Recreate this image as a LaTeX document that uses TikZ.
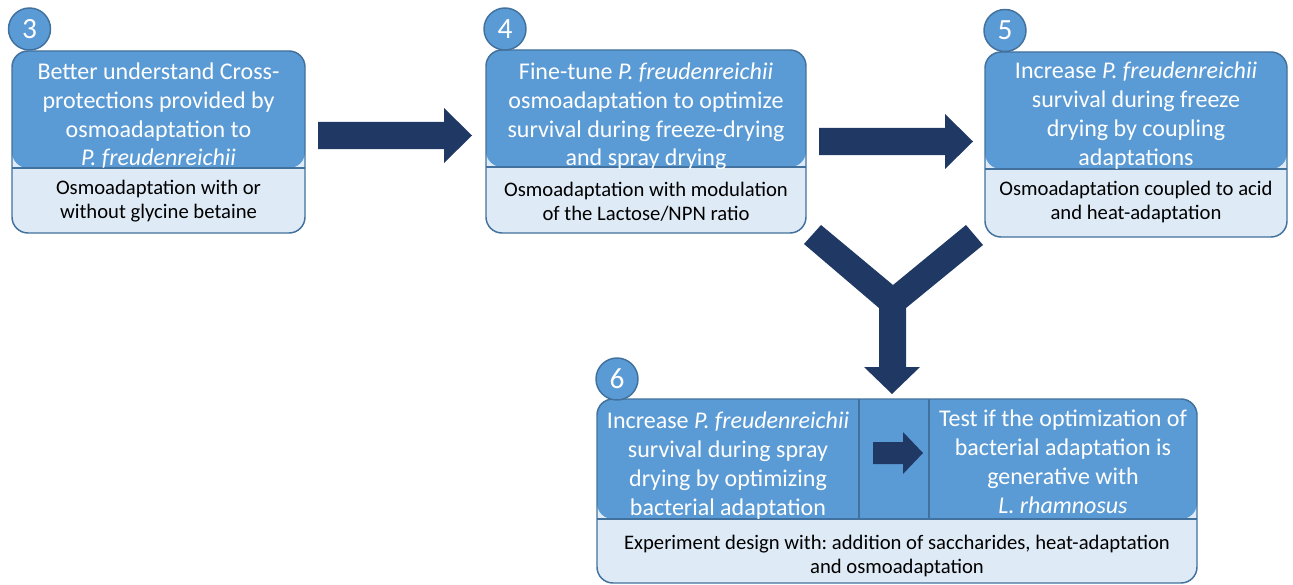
\documentclass[tikz,border=0pt]{standalone}
\usepackage{fontspec}
\setmainfont{Carlito}
\frenchspacing
\definecolor{topc}{HTML}{5B9BD5}
\definecolor{lightc}{HTML}{DEEBF7}
\definecolor{bordc}{HTML}{41719C}
\definecolor{arrowc}{HTML}{203864}
\newcommand{\tstr}{\rule{0pt}{14pt}}
\newcommand{\lstr}{\rule{0pt}{12pt}}
\begin{document}
\frenchspacing
\begin{tikzpicture}[x=0.75pt,y=-0.75pt,
  box/.style={draw=bordc,line width=1.1pt,fill=lightc,rounded corners=12pt,inner sep=0pt},
  topsplit/.style={path picture={
    \fill[topc] (path picture bounding box.north west) rectangle ([yshift=-#1]path picture bounding box.north east);
    \draw[bordc,line width=0.9pt] ([yshift=-#1]path picture bounding box.north west) -- ([yshift=-#1]path picture bounding box.north east);}},
  toptxt/.style={anchor=north,align=center,text=white,font=\fontsize{18}{21.6}\selectfont\frenchspacing,inner sep=0pt},
  lowtxt/.style={anchor=north,align=center,text=black,font=\fontsize{15.5}{18}\selectfont\frenchspacing,inner sep=0pt},
  numc/.style={circle,draw=bordc,line width=1.1pt,fill=topc,minimum size=31.5pt,inner sep=0pt,text=white,font=\fontsize{22}{22}\selectfont},
  blockarrow/.style={fill=arrowc,draw=none},
  inline/.style={draw=bordc,line width=0.9pt}]
\useasboundingbox (0,0) rectangle (1293,585);

% boxes
\node[box,topsplit=87.75pt,minimum width=219.75pt,minimum height=136.5pt] (b3) at (158.5,142) {};
\node[box,topsplit=87.75pt,minimum width=240pt,minimum height=137.25pt] (b4) at (646,141.5) {};
\node[box,topsplit=87.75pt,minimum width=226.5pt,minimum height=138.75pt] (b5) at (1136,144.5) {};
\node[box,topsplit=90pt,minimum width=450pt,minimum height=138pt] (b6) at (897,491) {};
\draw[inline] (859,399) coordinate (v1) -- (859,519) coordinate (v1b);
\draw[inline] (929,399) coordinate (v2) -- (929,519) coordinate (v2b);

% number circles
\node[numc] (n3) at (29.5,29) {3};
\node[numc] (n4) at (505,29) {4};
\node[numc] (n5) at (1005,30.5) {5};
\node[numc] (n6) at (617,379) {6};

% texts
\node[toptxt] (t3) at (158.5,60.5) {\tstr Better understand Cross-\\protections provided by\\osmoadaptation to\\\textit{P. freudenreichii}};
\node[lowtxt] (l3) at (158.5,178) {\lstr Osmoadaptation with or\\without glycine betaine};

\node[toptxt] (t4) at (646,60.5) {\tstr Fine-tune \textit{P. freudenreichii}\\osmoadaptation to optimize\\survival during freeze-drying\\and spray drying};
\node[lowtxt] (l4) at (646,180) {\lstr Osmoadaptation with modulation\\of the Lactose/NPN ratio};

\node[toptxt] (t5) at (1136,60) {\tstr Increase \textit{P. freudenreichii}\\survival during freeze\\drying by coupling\\adaptations};
\node[lowtxt] (l5) at (1136,179) {\lstr Osmoadaptation coupled to acid\\and heat-adaptation};

\node[toptxt] (t6a) at (728,410) {\tstr Increase \textit{P. freudenreichii}\\survival during spray\\drying by optimizing\\bacterial adaptation};
\node[toptxt] (t6b) at (1063,408) {\tstr Test if the optimization of\\bacterial adaptation is\\generative with\\\textit{L. rhamnosus}};
\node[lowtxt] (l6) at (897,533) {\lstr Experiment design with: addition of saccharides, heat-adaptation\\and osmoadaptation};

% block arrows
\fill[blockarrow] (318,122) -- (444,122) -- (444,108) -- (472,135.5) -- (444,163) -- (444,149) -- (318,149) -- cycle;
\fill[blockarrow] (819,128) -- (945,128) -- (945,114) -- (973,141.5) -- (945,169) -- (945,155) -- (819,155) -- cycle;
\fill[blockarrow] (873,442) -- (903,442) -- (903,432) -- (923,453) -- (903,474) -- (903,464) -- (873,464) -- cycle;
\fill[blockarrow] (821,225) -- (893,285) -- (966,225) -- (983,245) -- (906,308) -- (906,367) -- (920,367) -- (892,394) -- (864,367) -- (879,367) -- (879,308) -- (804,244) -- cycle;
\end{tikzpicture}
\end{document}
